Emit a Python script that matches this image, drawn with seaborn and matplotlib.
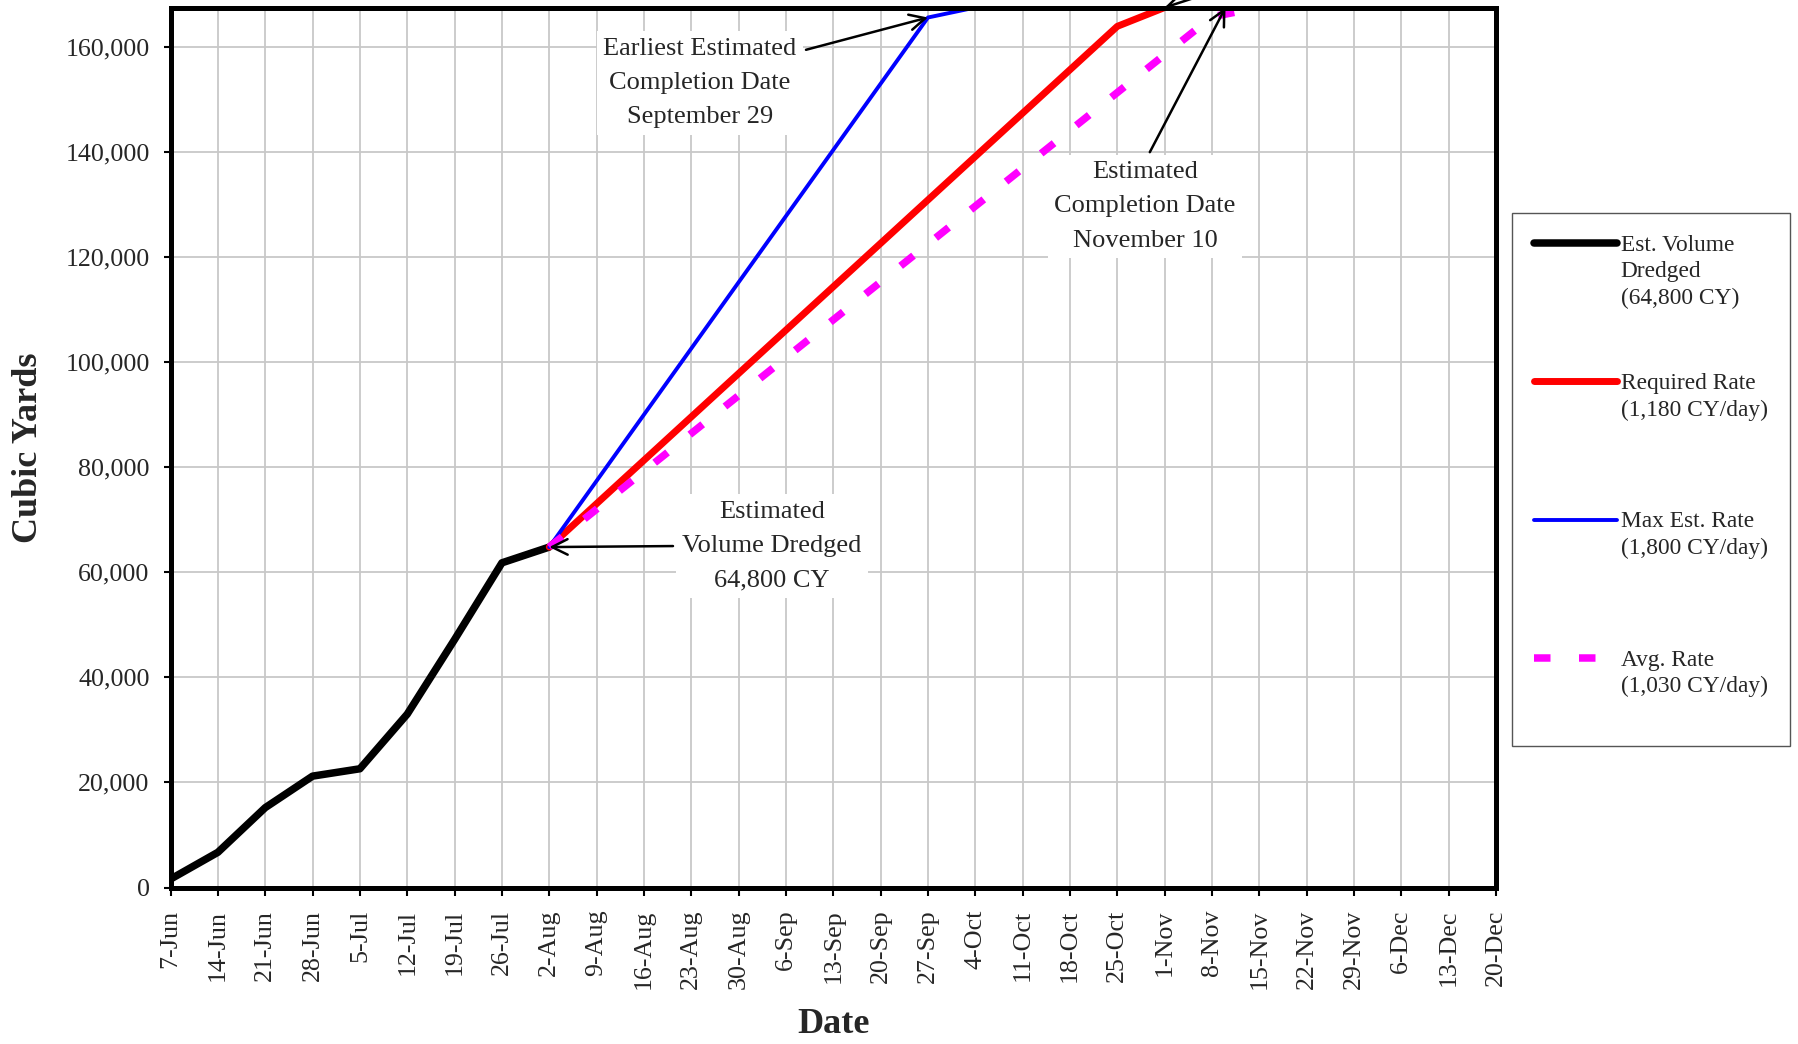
import pandas as pd
import seaborn as sns
import matplotlib.pyplot as plt
import matplotlib.dates as mdates
from matplotlib.ticker import FuncFormatter, MultipleLocator

# Weekly dates (Mondays)
week_dates = pd.date_range("2004-06-07", "2004-12-20", freq="7D")

# Est. volume dredged to date (CY)
dredged_dates = pd.to_datetime([
    "2004-06-07", "2004-06-14", "2004-06-21", "2004-06-28", "2004-07-05",
    "2004-07-12", "2004-07-19", "2004-07-26", "2004-08-02",
])
dredged_cy = [1600, 6700, 15200, 21200, 22600, 33000, 47200, 61800, 64800]

# Required rate (1,180 CY/day)
required_dates = pd.to_datetime([
    "2004-08-02", "2004-08-09", "2004-08-16", "2004-08-23", "2004-08-30",
    "2004-09-06", "2004-09-13", "2004-09-20", "2004-09-27", "2004-10-04",
    "2004-10-11", "2004-10-18", "2004-10-25", "2004-11-01",
])
required_cy = [64800, 73060, 81320, 89580, 97840, 106100, 114360, 122620,
               130880, 139140, 147400, 155660, 163920, 167500]

# Max est. rate (1,800 CY/day)
max_dates = pd.to_datetime([
    "2004-08-02", "2004-08-09", "2004-08-16", "2004-08-23", "2004-08-30",
    "2004-09-06", "2004-09-13", "2004-09-20", "2004-09-27", "2004-10-04",
])
max_cy = [64800, 77400, 90000, 102600, 115200, 127800, 140400, 153000,
          165600, 167500]

# Avg. rate (1,030 CY/day)
avg_dates = pd.to_datetime([
    "2004-08-02", "2004-08-09", "2004-08-16", "2004-08-23", "2004-08-30",
    "2004-09-06", "2004-09-13", "2004-09-20", "2004-09-27", "2004-10-04",
    "2004-10-11", "2004-10-18", "2004-10-25", "2004-11-01", "2004-11-08",
    "2004-11-15",
])
avg_cy = [64800, 72010, 79220, 86430, 93640, 100850, 108060, 115270, 122480,
          129690, 136900, 144110, 151320, 158530, 165740, 167500]

total_cy = 167500
earliest_date = pd.Timestamp("2004-09-27")
estimated_date = pd.Timestamp("2004-11-10")
required_end = pd.Timestamp("2004-11-01")

sns.set_theme(style="whitegrid")
plt.rcParams["font.family"] = ["Liberation Serif", "DejaVu Serif"]

fig = plt.figure(figsize=(17.99, 10.44), dpi=100)
ax = fig.add_axes([0.0948, 0.1499, 0.7368, 0.8429])

sns.lineplot(x=dredged_dates, y=dredged_cy, ax=ax, color="black",
             linewidth=5.4, solid_capstyle="round",
             label="Est. Volume\nDredged\n(64,800 CY)")
sns.lineplot(x=required_dates, y=required_cy, ax=ax, color="#ff0000",
             linewidth=5.0, solid_capstyle="round",
             label="Required Rate\n(1,180 CY/day)\n ")
sns.lineplot(x=max_dates, y=max_cy, ax=ax, color="#0000ff",
             linewidth=2.8, solid_capstyle="round",
             label="Max Est. Rate\n(1,800 CY/day)\n ")
sns.lineplot(x=avg_dates, y=avg_cy, ax=ax, color="#ff00ff",
             linewidth=5.4, linestyle=(0, (2.2, 3.8)), dash_capstyle="butt",
             label="Avg. Rate\n(1,030 CY/day)\n ")

# Axes ranges / ticks
ax.set_xlim(week_dates[0], week_dates[-1])
ax.set_ylim(0, total_cy)
ax.set_xticks(week_dates)
ax.xaxis.set_major_formatter(mdates.DateFormatter("%-d-%b"))
ax.yaxis.set_major_locator(MultipleLocator(20000))
ax.yaxis.set_major_formatter(FuncFormatter(lambda v, p: f"{v:,.0f}"))
ax.tick_params(axis="x", labelrotation=90, labelsize=18.7, length=6,
               width=1.5, color="black", direction="out", pad=10, bottom=True)
ax.tick_params(axis="y", labelsize=18.7, length=5, width=1.5,
               color="black", direction="out", pad=10, left=True)
for lbl in ax.get_xticklabels():
    lbl.set_verticalalignment("top")

ax.grid(True, color="#c8c8c8", linewidth=1.3)
for s in ax.spines.values():
    s.set_color("black")
    s.set_linewidth(3.6)
    s.set_zorder(5)

ax.set_xlabel("Date", fontsize=26, fontweight="bold")
ax.set_ylabel("Cubic Yards", fontsize=26, fontweight="bold")
ax.xaxis.label.set_verticalalignment("center")
ax.yaxis.label.set_verticalalignment("center")
ax.xaxis.set_label_coords(0.5, -0.156)
ax.yaxis.set_label_coords(-0.107, 0.5)

# Annotations
note_font = dict(fontsize=19, linespacing=1.72, ha="center", va="center")
box = dict(boxstyle="square,pad=0.25", facecolor="white", edgecolor="none")
arrow = dict(arrowstyle="->", color="black", lw=1.8, mutation_scale=28,
             shrinkA=2, shrinkB=0)

ax.annotate("Earliest Estimated\nCompletion Date\nSeptember 29",
            xy=(earliest_date, max_cy[-2]), xycoords="data",
            xytext=(0.3995, 0.9142), textcoords="axes fraction",
            bbox=box, arrowprops=dict(arrow, relpos=(1.0, 0.84)),
            zorder=6, **note_font)
ax.annotate("Estimated\nCompletion Date\nNovember 10",
            xy=(estimated_date, total_cy), xycoords="data",
            xytext=(0.7352, 0.7739), textcoords="axes fraction",
            bbox=box, arrowprops=dict(arrow, relpos=(0.5, 1.0)),
            zorder=6, **note_font)
ax.annotate("Estimated\nVolume Dredged\n64,800 CY",
            xy=(dredged_dates[-1], dredged_cy[-1]), xycoords="data",
            xytext=(0.4538, 0.3881), textcoords="axes fraction",
            bbox=box, arrowprops=dict(arrow, relpos=(0.0, 0.5)),
            zorder=6, **note_font)
ax.annotate("", xy=(required_end, total_cy), xycoords="data",
            xytext=(40, 13), textcoords="offset points",
            arrowprops=arrow, annotation_clip=False, zorder=6)

# Legend
leg = ax.legend(loc="upper left", bbox_to_anchor=(0.8405, 0.7963),
                bbox_transform=fig.transFigure, borderaxespad=0,
                fontsize=16.8, frameon=True, fancybox=False, framealpha=1,
                edgecolor="#555555", borderpad=0.95, labelspacing=2.75,
                handlelength=3.55, handletextpad=0.15)
leg.get_frame().set_linewidth(1.0)
for t in leg.get_texts():
    t.set_linespacing(1.34)
try:
    for col in leg._legend_handle_box.get_children():
        for item in col.get_children():
            item.align = "top"
except AttributeError:
    pass

fig.savefig("out.png", dpi=100)
